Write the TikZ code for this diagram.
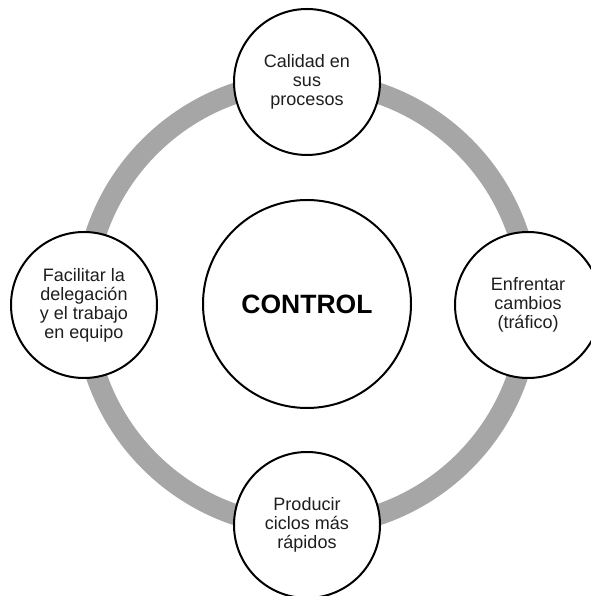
\documentclass[tikz,border=0pt]{standalone}
\usepackage{fontspec}
\setmainfont{Liberation Sans}
\definecolor{ringgray}{HTML}{A6A6A6}
\definecolor{txt}{HTML}{1E1E1E}
\tikzset{
  bubble/.style={circle, draw=black, line width=2pt, fill=white, minimum size=146pt, inner sep=0pt, align=center, text=txt, font=\fontsize{18}{19}\selectfont},
  core/.style={circle, draw=black, line width=2pt, fill=white, minimum size=208pt, inner sep=0pt, align=center, text=black, font=\fontsize{26.5}{30}\selectfont\bfseries},
  ring/.style={draw=ringgray, line width=21pt}
}
\begin{document}
\begin{tikzpicture}[x=1pt,y=1pt]
\useasboundingbox (0,0) rectangle (590,596);
\fill[white] (0,0) rectangle (590,596);
\coordinate (c) at (307,292);
\draw[ring] (c) circle (222.5);
\node[core] (ctrl) at (c) {CONTROL};
\node[bubble] (top) at (307,514) {Calidad en\\sus\\procesos};
\node[bubble] (left) at (84,291) {Facilitar la\\delegación\\y el trabajo\\en equipo};
\node[bubble] (right) at (528,291) {Enfrentar\\cambios\\(tráfico)};
\node[bubble] (bottom) at (307,71) {Producir\\ciclos más\\rápidos};
\end{tikzpicture}
\end{document}
